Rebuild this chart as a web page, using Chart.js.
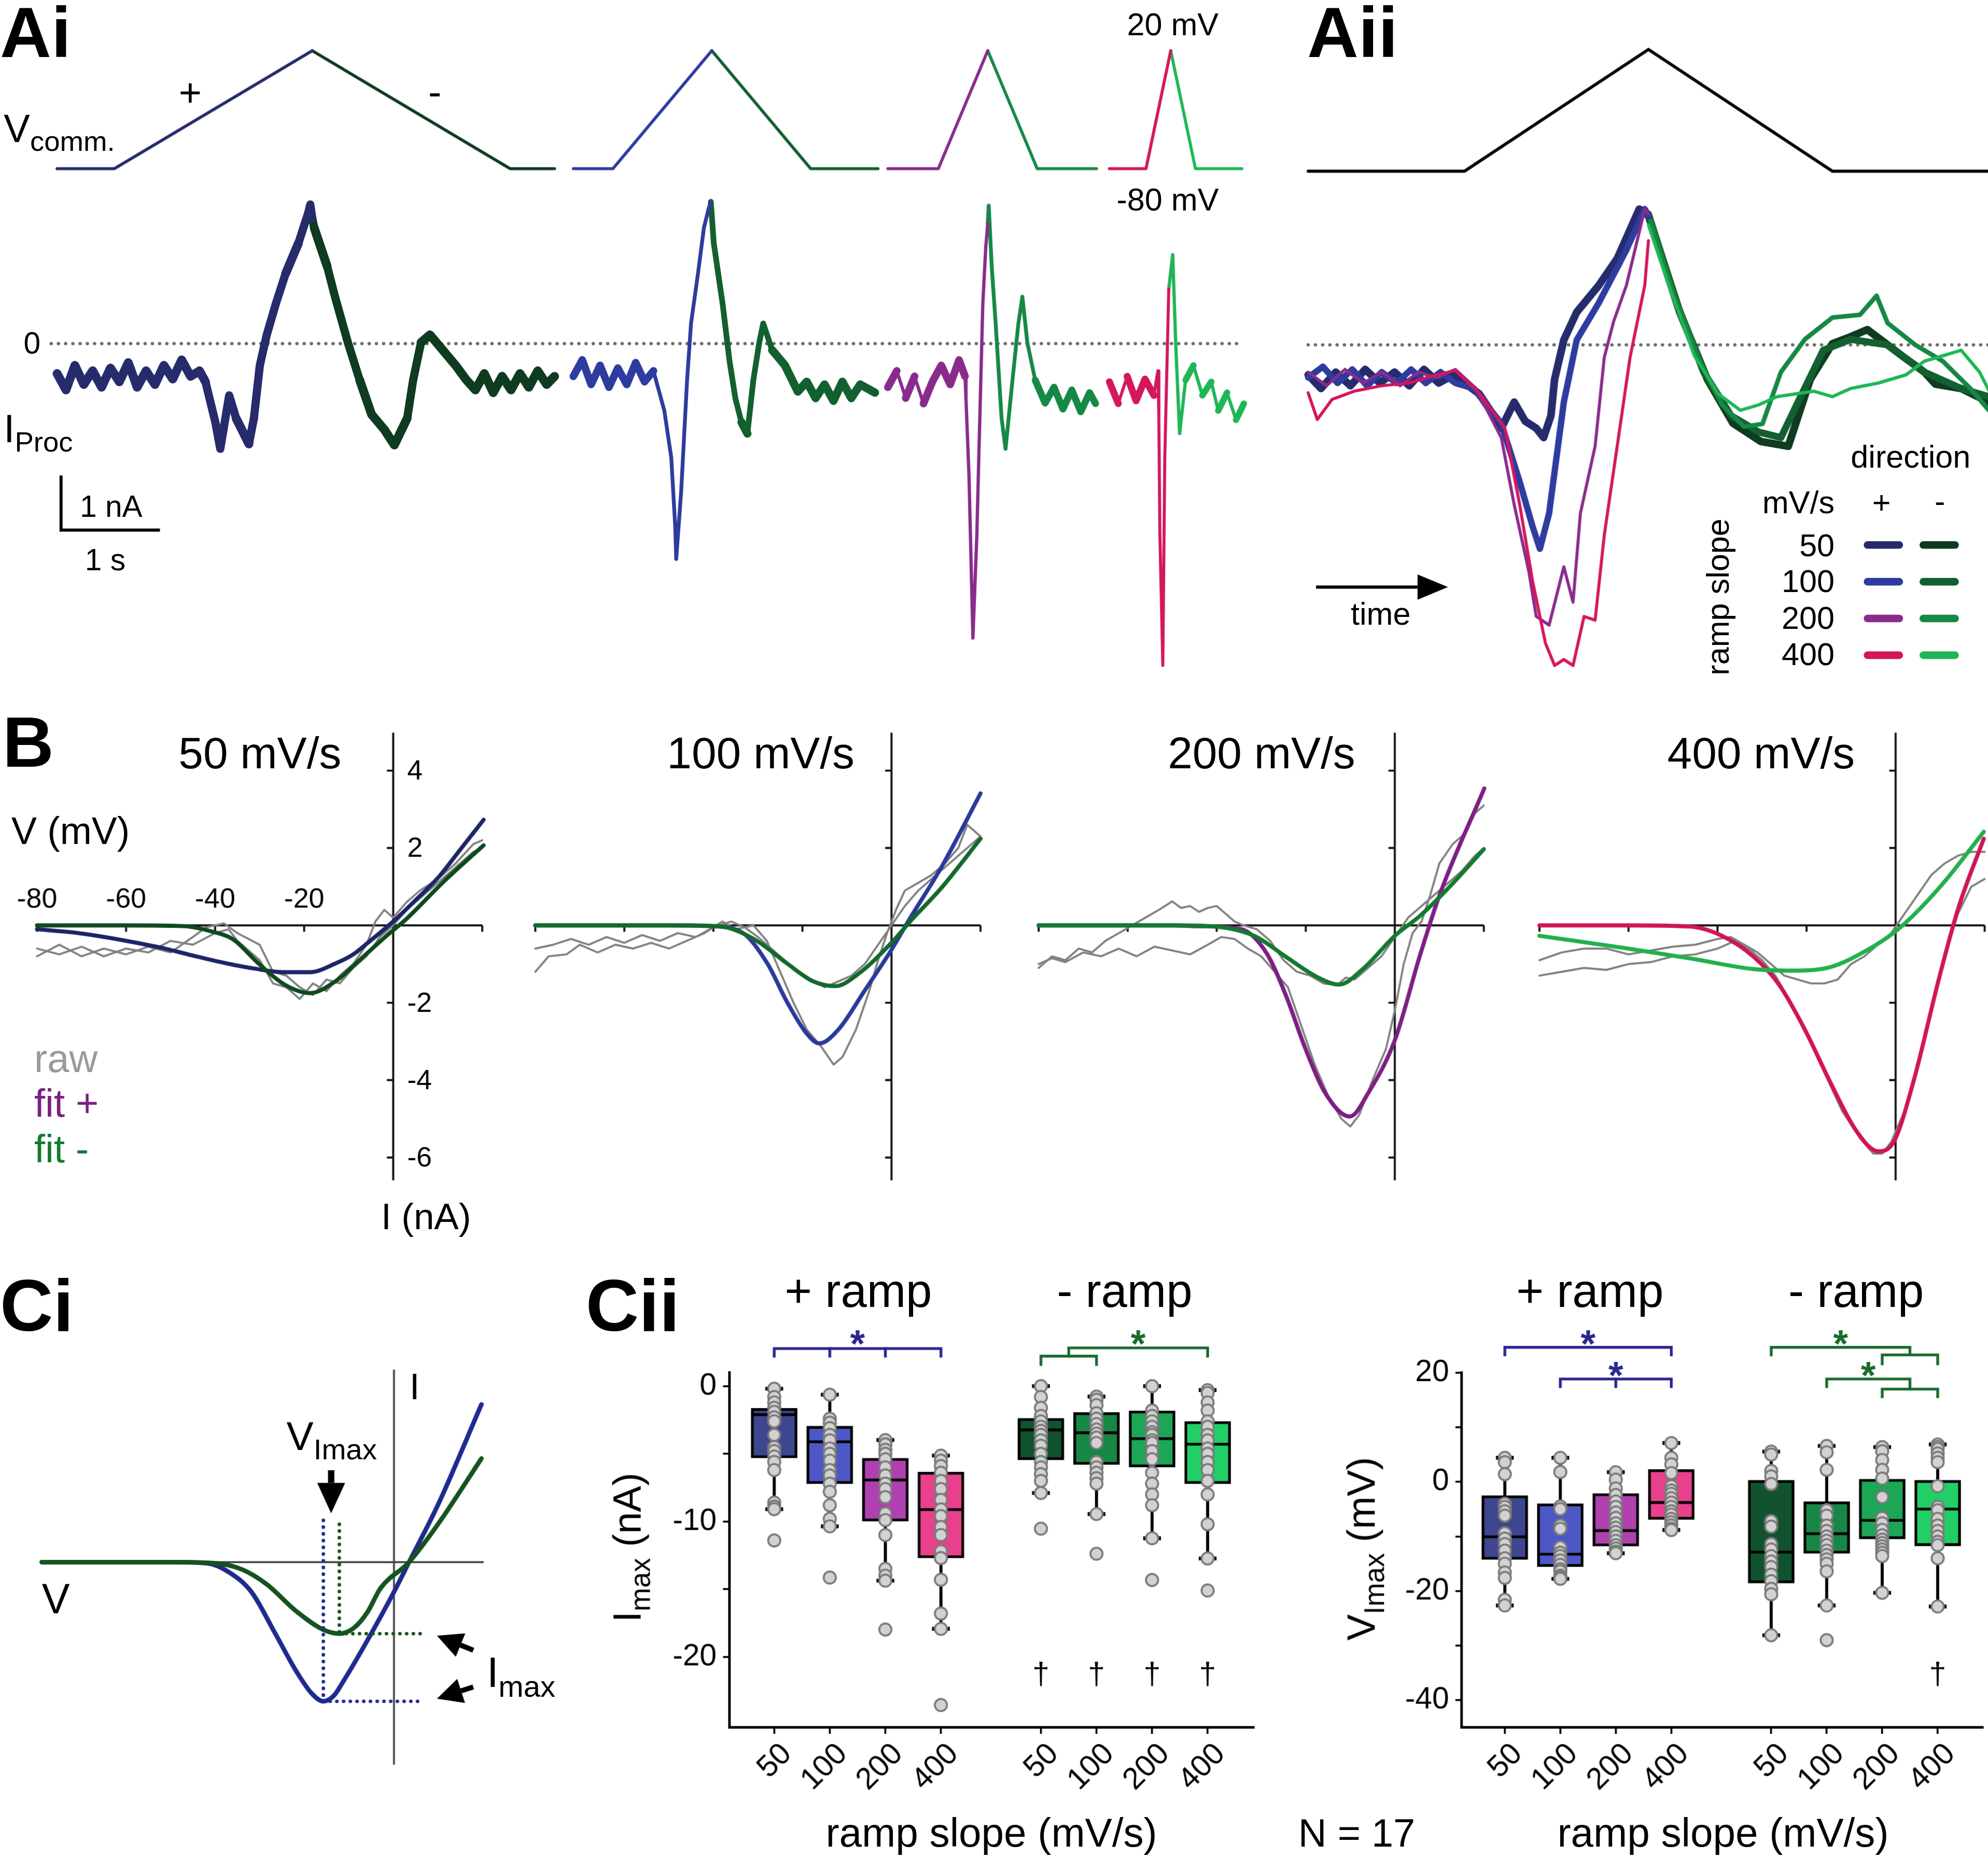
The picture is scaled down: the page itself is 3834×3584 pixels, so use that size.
<!DOCTYPE html>
<html>
<head>
<meta charset="utf-8">
<title>Ramp slope and direction dependence of I_Proc</title>
<script src="https://cdn.jsdelivr.net/npm/chart.js@4.4.1/dist/chart.umd.min.js"></script>
<style>
html, body { margin: 0; padding: 0; background: #fff; overflow: hidden; }
#stage { position: absolute; left: 0; top: 0; width: 1568px; height: 1466px; transform-origin: 0 0;
         transform: scale(2.44515, 2.44475); font-family: 'Liberation Sans', Arial, sans-serif; color: #000; }
#stage canvas { position: absolute; }
.t { position: absolute; white-space: nowrap; line-height: 1; }
.t sub { font-size: 0.72em; vertical-align: -0.32em; line-height: 0; }
.sw { position: absolute; height: 6px; border-radius: 3px; }
</style>
</head>
<body>
<div id="stage"></div>
<script>
// ---------- data ----------
const SLOPES = [50, 100, 200, 400];          // mV/s
const V_HOLD = -80, V_PEAK = 20;             // mV
const PRE_FLAT = [0.58, 0.40, 0.51, 0.37];   // s before the ramp
const POST_FLAT = [0.45, 0.68, 0.60, 0.47];  // s after the ramp

// Ai: I_Proc (nA) against time (s) from the start of each sweep
const AI_PLUS_50 = [[0,-0.55],[0.09,-0.85],[0.18,-0.4],[0.27,-0.75],[0.36,-0.5],[0.45,-0.8],[0.54,-0.45],[0.63,-0.7],[0.72,-0.35],[0.81,-0.8],[0.9,-0.5],[0.99,-0.75],[1.08,-0.4],[1.17,-0.65],[1.26,-0.3],[1.35,-0.6],[1.44,-0.5],[1.5,-0.7],[1.6,-1.44],[1.65,-1.93],[1.74,-0.95],[1.81,-1.37],[1.94,-1.84],[1.99,-1.37],[2.05,-0.4],[2.12,0.16],[2.21,0.72],[2.31,1.28],[2.44,1.84],[2.54,2.4],[2.56,2.55],[2.58,2.3]];
const AI_MINUS_50 = [[2.58,2.3],[2.6,2.12],[2.73,1.42],[2.81,0.86],[2.94,0.02],[3.06,-0.67],[3.18,-1.3],[3.31,-1.58],[3.41,-1.86],[3.54,-1.37],[3.6,-0.67],[3.68,0.02],[3.77,0.16],[3.9,-0.12],[4.03,-0.4],[4.14,-0.67],[4.23,-0.85],[4.32,-0.55],[4.41,-0.9],[4.5,-0.6],[4.59,-0.85],[4.68,-0.55],[4.77,-0.8],[4.86,-0.5],[4.95,-0.75],[5.03,-0.6]];
const AI_PLUS_100 = [[0,-0.6],[0.09,-0.3],[0.18,-0.75],[0.27,-0.4],[0.36,-0.8],[0.45,-0.45],[0.54,-0.75],[0.63,-0.35],[0.72,-0.7],[0.81,-0.5],[0.92,-1.23],[0.99,-2.09],[1.03,-3.35],[1.04,-3.95],[1.09,-2.72],[1.15,-0.67],[1.19,0.37],[1.26,1.28],[1.32,2.12],[1.37,2.49],[1.39,2.6]];
const AI_MINUS_100 = [[1.39,2.6],[1.42,1.84],[1.51,0.72],[1.58,-0.33],[1.64,-1.02],[1.7,-1.44],[1.76,-1.65],[1.82,-0.67],[1.88,0.02],[1.92,0.37],[2.01,-0.12],[2.14,-0.4],[2.27,-0.88],[2.36,-0.7],[2.45,-1.0],[2.54,-0.75],[2.63,-1.05],[2.72,-0.7],[2.81,-1.0],[2.9,-0.75],[3.05,-0.9]];
const AI_PLUS_200 = [[0,-0.8],[0.09,-0.5],[0.18,-1.0],[0.27,-0.6],[0.36,-1.1],[0.45,-0.7],[0.54,-0.4],[0.63,-0.75],[0.72,-0.3],[0.78,-0.6],[0.79,-1.02],[0.82,-2.4],[0.86,-5.4],[0.9,-3.5],[0.92,-2.05],[0.96,0.72],[0.99,1.77],[1.01,2.2]];
const AI_MINUS_200 = [[1.01,2.2],[1.02,2.53],[1.05,1.42],[1.09,0.37],[1.15,-1.37],[1.19,-1.93],[1.26,-0.67],[1.32,0.37],[1.36,0.86],[1.41,0.02],[1.49,-0.67],[1.59,-1.09],[1.68,-0.8],[1.77,-1.2],[1.86,-0.85],[1.95,-1.25],[2.04,-0.9],[2.1,-1.1]];
const AI_PLUS_400 = [[0,-0.7],[0.09,-1.1],[0.18,-0.6],[0.27,-1.05],[0.36,-0.65],[0.45,-0.95],[0.49,-0.5],[0.5,-1.37],[0.51,-3.47],[0.54,-5.9],[0.56,-2.09],[0.6,1.0]];
const AI_MINUS_400 = [[0.6,1.0],[0.64,1.63],[0.67,0.02],[0.71,-1.65],[0.77,-0.67],[0.85,-0.4],[0.94,-0.95],[1.03,-0.7],[1.1,-1.23],[1.19,-0.9],[1.28,-1.4],[1.36,-1.1]];

// Aii: same currents on a ramp-normalised time (0 = ramp start, 1 = peak, 2 = ramp end)
const AII_VC_U = [-0.85, 0, 1, 2, 2.86];
const AII_VC_V = [-80, -80, 20, -80, -80];
const AII_PLUS_50 = [[-0.85,-0.55],[-0.78,-0.8],[-0.7,-0.5],[-0.62,-0.75],[-0.54,-0.45],[-0.46,-0.7],[-0.38,-0.5],[-0.3,-0.75],[-0.22,-0.45],[-0.14,-0.7],[-0.06,-0.55],[0,-0.7],[0.08,-0.9],[0.14,-1.2],[0.2,-1.53],[0.27,-1.05],[0.33,-1.4],[0.39,-1.53],[0.43,-1.7],[0.47,-1.3],[0.49,-0.63],[0.54,0.09],[0.61,0.6],[0.73,1.09],[0.83,1.58],[0.95,2.49],[1,2.37]];
const AII_PLUS_100 = [[-0.85,-0.6],[-0.77,-0.4],[-0.69,-0.7],[-0.61,-0.45],[-0.53,-0.75],[-0.45,-0.5],[-0.37,-0.7],[-0.29,-0.45],[-0.21,-0.7],[-0.13,-0.5],[-0.05,-0.7],[0.05,-0.8],[0.12,-1.1],[0.2,-1.44],[0.3,-2.51],[0.37,-3.33],[0.41,-3.74],[0.46,-3.09],[0.54,-1.05],[0.61,0.09],[0.73,0.77],[0.88,1.74],[0.98,2.49],[1,2.37]];
const AII_PLUS_200 = [[-0.85,-0.5],[-0.75,-0.75],[-0.65,-0.45],[-0.55,-0.7],[-0.45,-0.5],[-0.35,-0.75],[-0.25,-0.5],[-0.15,-0.6],[-0.05,-0.45],[0.06,-0.79],[0.2,-1.7],[0.27,-2.93],[0.35,-4.16],[0.39,-4.98],[0.46,-5.14],[0.54,-4.07],[0.59,-4.72],[0.63,-3.09],[0.71,-1.86],[0.76,-0.23],[0.81,0.42],[0.88,1.09],[0.98,2.49],[1,2.4]];
const AII_PLUS_400 = [[-0.85,-0.88],[-0.8,-1.37],[-0.72,-1.0],[-0.6,-0.85],[-0.45,-0.75],[-0.3,-0.7],[-0.15,-0.55],[-0.05,-0.47],[0.08,-0.88],[0.22,-1.53],[0.3,-2.93],[0.37,-4.33],[0.44,-5.47],[0.49,-5.88],[0.54,-5.77],[0.59,-5.88],[0.65,-4.98],[0.71,-5.05],[0.76,-3.49],[0.83,-1.86],[0.9,-0.23],[0.98,1.09],[1,1.91]];
const AII_MINUS_50 = [[1,2.37],[1.17,0.6],[1.32,-0.63],[1.46,-1.44],[1.61,-1.77],[1.76,-1.86],[1.88,-0.63],[2,0.02],[2.1,0.15],[2.19,0.28],[2.3,0],[2.39,-0.23],[2.5,-0.5],[2.56,-0.72],[2.7,-0.8],[2.85,-1.05]];
const AII_MINUS_100 = [[1,2.4],[1.15,0.8],[1.3,-0.5],[1.45,-1.3],[1.6,-1.6],[1.72,-1.7],[1.82,-1.0],[1.95,-0.1],[2.1,0.1],[2.3,0],[2.5,-0.5],[2.7,-0.8],[2.85,-0.95]];
const AII_MINUS_200 = [[1,2.4],[1.14,0.9],[1.28,-0.3],[1.4,-1.1],[1.52,-1.5],[1.62,-1.45],[1.72,-0.5],[1.85,0.1],[2,0.5],[2.15,0.55],[2.24,0.9],[2.3,0.4],[2.45,0],[2.6,-0.3],[2.75,-0.8],[2.85,-1.2]];
const AII_MINUS_400 = [[1,2.2],[1.12,1.0],[1.25,-0.2],[1.38,-0.9],[1.5,-1.2],[1.6,-1.1],[1.7,-0.95],[1.8,-0.9],[1.9,-0.85],[2,-0.95],[2.1,-0.8],[2.25,-0.7],[2.4,-0.55],[2.5,-0.3],[2.6,-0.2],[2.7,-0.1],[2.8,-0.5],[2.86,-0.9]];

// B: I-V relations, [V (mV), I (nA)]
const B_XTICKS = [-80, -60, -40, -20, 20];
const B_YTICKS = [4, 2, -2, -4, -6];
const B_FIT_PLUS = [
  [[-80,-0.1],[-72,-0.18],[-66.5,-0.27],[-59,-0.42],[-52,-0.58],[-45,-0.78],[-37.5,-0.98],[-31,-1.12],[-24.4,-1.21],[-18.7,-1.21],[-12.9,-0.98],[-9,-0.75],[-5.7,-0.45],[0,0.1],[5,0.65],[10.2,1.25],[15,1.95],[20.3,2.73]],
  [[-80,0],[-50,0],[-40.8,-0.02],[-33.6,-0.18],[-27.9,-0.98],[-23.5,-1.97],[-19.1,-2.79],[-16.2,-3.05],[-11.9,-2.69],[-6.1,-1.7],[0,-0.63],[4.1,0.17],[11.3,1.52],[20,3.41]],
  [[-80,0],[-50,0],[-44.6,-0.02],[-34.5,-0.1],[-28.8,-0.72],[-24.5,-1.8],[-20.2,-3.15],[-15.8,-4.3],[-10.1,-4.94],[-5.8,-4.3],[0,-2.97],[5.8,-0.72],[10.1,0.8],[20.1,3.54]],
  [[-80,0],[-60,0],[-46.3,-0.03],[-39,-0.27],[-31.9,-0.81],[-26.2,-1.53],[-20.4,-2.69],[-14.7,-4.05],[-8.9,-5.3],[-3.9,-5.84],[-0.3,-5.57],[4,-4.04],[9.8,-1.35],[14.1,0.45],[19.8,2.24]]
];
const B_FIT_MINUS = [
  [[-80,0],[-60,0],[-50,-0.01],[-46,-0.03],[-41,-0.15],[-36,-0.36],[-30.3,-0.98],[-24.4,-1.53],[-18.7,-1.75],[-12.9,-1.44],[-7.1,-0.85],[-1.4,-0.26],[3,0.17],[11.6,1.16],[20.3,2.07]],
  [[-80,0],[-50,0],[-39,-0.02],[-30.8,-0.36],[-23.5,-0.98],[-17.7,-1.44],[-12.6,-1.57],[-7.5,-1.26],[0,-0.45],[4.1,0.09],[11.3,0.98],[20,2.24]],
  [[-80,0],[-50,0],[-41.7,-0.02],[-31.6,-0.27],[-24.5,-0.81],[-17.2,-1.35],[-12.5,-1.53],[-7.2,-1.13],[0,-0.27],[5.8,0.26],[12.9,1.07],[20,1.97]],
  [[-80,-0.27],[-60.7,-0.59],[-46.3,-0.85],[-31.9,-1.13],[-23.3,-1.17],[-14.7,-1.08],[-6.1,-0.62],[-0.3,-0.18],[4,0.26],[11.2,1.16],[19.8,2.42]]
];
const B_RAW_A = [
  [[-80,-0.6],[-75,-0.75],[-70,-0.55],[-65,-0.8],[-60,-0.6],[-55,-0.7],[-50,-0.4],[-45,-0.5],[-40,-0.2],[-37,-0.1],[-35,-0.4],[-30,-0.9],[-27,-1.5],[-24,-1.6],[-21,-1.9],[-18,-1.5],[-15,-1.7],[-12,-1.3],[-9,-1.0],[-6,-0.5],[-4,0.1],[-2,0.4],[0,0.2],[3,0.6],[6,0.9],[10,1.2],[14,1.6],[18,2.1],[20,2.2]],
  [[-80,-1.2],[-77,-0.8],[-73,-0.75],[-70,-0.5],[-66,-0.7],[-62,-0.5],[-58,-0.6],[-54,-0.45],[-50,-0.6],[-46,-0.4],[-42,-0.2],[-38,0.1],[-35,-0.1],[-31,0],[-28,-0.4],[-25,-1.2],[-22,-2.0],[-19,-2.7],[-16,-3.1],[-13,-3.6],[-11,-3.4],[-8,-2.7],[-5,-1.7],[-3,-0.9],[-1,-0.2],[1,0.4],[3,0.9],[6,1.1],[9,1.3],[12,1.6],[15,2.0],[17,2.6],[19,2.4],[20,2.3]],
  [[-80,-1.1],[-77,-0.8],[-74,-0.9],[-71,-0.6],[-68,-0.7],[-65,-0.4],[-62,-0.2],[-59,0],[-56,0.2],[-53,0.4],[-50,0.62],[-48,0.45],[-46,0.5],[-44,0.35],[-42,0.45],[-40,0.5],[-38,0.3],[-36,0.1],[-34,0],[-31,-0.1],[-28,-0.4],[-25,-0.9],[-22,-1.2],[-19,-1.3],[-16,-1.5],[-13,-1.55],[-11,-1.35],[-9,-1.4],[-6,-1.1],[-3,-0.8],[0,-0.3],[3,0.2],[6,0.5],[9,0.8],[12,1.1],[15,1.4],[18,1.8],[20,2.0]],
  [[-80,-0.9],[-75,-0.7],[-70,-0.6],[-65,-0.6],[-60,-0.75],[-55,-0.65],[-50,-0.55],[-45,-0.5],[-40,-0.35],[-37,-0.3],[-34,-0.5],[-31,-0.7],[-28,-1.0],[-25,-1.3],[-22,-1.4],[-19,-1.5],[-16,-1.5],[-13,-1.4],[-10,-1.0],[-7,-0.8],[-4,-0.5],[-1,-0.2],[2,0.3],[5,0.8],[8,1.3],[11,1.6],[14,1.8],[17,1.9],[20,1.9]]
];
const B_RAW_B = [
  [[-80,-0.8],[-75,-0.5],[-70,-0.8],[-65,-0.6],[-60,-0.75],[-55,-0.55],[-50,-0.7],[-45,-0.3],[-42,-0.05],[-38,0.05],[-35,-0.2],[-30,-0.5],[-27,-1.2],[-24,-1.3],[-21,-1.6],[-18,-1.8],[-15,-1.4],[-12,-1.5],[-9,-1.1],[-6,-0.8],[-3,-0.3],[0,0],[3,0.4],[6,0.7],[10,1.1],[14,1.5],[18,1.9],[20,2.0]],
  [[-80,-0.6],[-76,-0.5],[-72,-0.35],[-68,-0.5],[-64,-0.3],[-60,-0.45],[-56,-0.25],[-52,-0.4],[-48,-0.2],[-44,-0.3],[-40,-0.05],[-36,0.1],[-33,-0.05],[-30,-0.3],[-26,-0.7],[-22,-1.1],[-18,-1.4],[-15,-1.6],[-12,-1.45],[-9,-1.3],[-6,-1.0],[-3,-0.5],[0,0],[3,0.5],[6,0.9],[9,1.2],[12,1.5],[15,1.8],[18,2.1],[20,2.3]],
  [[-80,-1.0],[-77,-0.85],[-74,-0.95],[-70,-0.7],[-66,-0.8],[-62,-0.6],[-58,-0.8],[-54,-0.55],[-50,-0.65],[-46,-0.75],[-42,-0.5],[-39,-0.3],[-36,-0.35],[-33,-0.6],[-30,-0.8],[-27,-1.2],[-24,-1.6],[-21,-2.6],[-18,-3.6],[-15,-4.4],[-12,-5.0],[-10,-5.2],[-8,-4.9],[-5,-4.0],[-2,-3.2],[0,-2.2],[2,-1.0],[4,-0.2],[6,0.1],[8,0.8],[10,1.6],[13,2.1],[16,2.4],[18,2.9],[20,3.1]],
  [[-80,-1.3],[-75,-1.2],[-70,-1.1],[-65,-1.15],[-60,-1.0],[-55,-0.95],[-50,-0.8],[-45,-0.75],[-40,-0.6],[-36,-0.4],[-33,-0.6],[-30,-0.9],[-27,-1.3],[-24,-1.9],[-20,-2.8],[-16,-3.8],[-12,-4.8],[-8,-5.5],[-5,-5.9],[-3,-5.9],[-1,-5.6],[2,-4.8],[5,-3.6],[8,-2.2],[11,-0.8],[14,0.3],[17,1.0],[20,1.2]]
];

// Ci: schematic I-V curves, [V, I]
const CI_FAST = [[-79.3,0],[-50,0],[-42,-0.03],[-37.3,-0.25],[-32.1,-0.77],[-27,-1.79],[-21.9,-2.84],[-18.5,-3.4],[-15.9,-3.6],[-13.5,-3.45],[-11.6,-3.12],[-6.4,-2.11],[0,-0.77],[3.4,0],[9.9,1.48],[19.7,4.08]];
const CI_SLOW = [[-79.3,0],[-50,0],[-40,-0.03],[-34,-0.2],[-28.7,-0.57],[-21.9,-1.28],[-15.9,-1.75],[-12.3,-1.85],[-9,-1.7],[-6,-1.3],[-3,-0.67],[3.4,0],[9.9,0.98],[19.7,2.68]];

// Cii: box statistics and single cells (N = 17), groups = +50..+400, -50..-400
const IMAX_TICKS = [-20, -15, -10, -5, 0];
const IMAX_HI  = [-1.65, -2.97, -5.34, -6.36, -2.39, -1.95, -1.83, -2.62];
const IMAX_MED = [-2.1, -4.11, -6.93, -9.12, -3.23, -3.44, -3.88, -4.29];
const IMAX_LO  = [-5.29, -7.19, -9.96, -12.68, -5.43, -5.78, -5.96, -7.19];
const IMAX_WHI = [-0.19, -0.63, -3.98, -5.13, 0, -0.77, 0, -0.29];
const IMAX_WLO = [-9.09, -10.36, -14.37, -17.93, -7.89, -9.45, -11.24, -12.73];
const IMAX_CELLS = [
  [-0.19,-0.8,-1.2,-1.6,-1.9,-2.3,-2.6,-3.6,-4.5,-4.8,-5.2,-5.6,-6.2,-8.6,-8.9,-9.09,-11.4],
  [-0.63,-2.4,-2.7,-3.1,-3.6,-4.0,-4.6,-5.0,-5.5,-6.2,-6.6,-7.2,-7.8,-8.8,-9.8,-10.36,-14.14],
  [-3.98,-4.3,-4.7,-5.0,-5.4,-6.0,-6.6,-7.2,-7.6,-8.2,-9.4,-9.9,-11.0,-13.5,-14.0,-14.37,-17.98],
  [-5.13,-5.5,-5.9,-6.4,-7.0,-7.6,-8.4,-9.1,-9.6,-10.4,-11.0,-12.2,-12.7,-14.3,-16.8,-17.93,-23.56],
  [0,-0.8,-1.6,-2.2,-2.6,-3.0,-3.3,-3.6,-4.0,-4.4,-5.0,-5.6,-6.0,-6.5,-7.0,-7.89,-10.53],
  [-0.77,-1.0,-1.4,-2.0,-2.4,-2.8,-3.2,-3.5,-3.8,-4.2,-5.6,-6.0,-6.4,-6.8,-7.2,-9.45,-12.38],
  [0,-1.8,-2.2,-2.6,-3.0,-3.4,-3.6,-4.0,-4.2,-4.8,-5.4,-6.4,-7.2,-8.0,-8.8,-11.24,-14.32],
  [-0.29,-0.5,-1.2,-1.8,-2.6,-3.0,-3.6,-4.0,-4.6,-5.0,-5.6,-6.2,-7.0,-8.0,-10.2,-12.73,-15.1]
];
const IMAX_DAGGER = [null, null, null, null, -21.4, -21.4, -21.4, -21.4];

const VMAX_TICKS = [-40, -30, -20, -10, 0, 10, 20];
const VMAX_HI  = [-2.55, -4.05, -2.18, 2.23, 0.26, -3.67, 0.46, 0.26];
const VMAX_MED = [-10.07, -13.26, -8.94, -3.79, -12.88, -9.5, -7.06, -4.99];
const VMAX_LO  = [-14.2, -15.5, -11.75, -6.87, -18.5, -13.08, -10.43, -11.69];
const VMAX_WHI = [4.4, 4.4, 1.77, 7.11, 5.53, 6.58, 6.37, 6.85];
const VMAX_WLO = [-22.65, -17.77, -13.08, -8.83, -28.1, -22.65, -20.33, -22.84];
const VMAX_CELLS = [
  [4.4,3.6,1.4,-4.0,-4.6,-5.4,-6.2,-9.4,-10.4,-11.4,-12.6,-14.0,-15.0,-16.6,-17.6,-21.6,-22.65],
  [4.4,1.8,-4.5,-5.0,-8.0,-8.6,-12.0,-13.0,-13.6,-14.4,-15.2,-16.0,-16.4,-17.2,-17.5,-17.7,-17.77],
  [1.77,0.4,-1.2,-2.4,-3.6,-4.6,-5.6,-6.6,-7.6,-8.4,-9.2,-10.0,-10.8,-11.6,-12.2,-12.8,-13.08],
  [7.11,4.4,3.2,1.6,-0.8,-1.6,-2.2,-3.0,-3.8,-4.6,-5.4,-6.0,-6.8,-7.4,-8.0,-8.6,-8.83],
  [5.53,5.0,2.0,1.0,-0.4,-7.2,-8.2,-11.4,-12.4,-13.6,-14.6,-15.6,-17.0,-18.2,-19.6,-20.6,-28.1],
  [6.58,5.4,2.2,-5.2,-6.2,-8.0,-9.0,-10.0,-10.8,-11.6,-12.6,-13.4,-14.2,-15.0,-16.4,-22.65,-29.0],
  [6.37,5.6,4.0,2.2,0.6,-2.8,-6.6,-7.6,-8.8,-9.8,-10.6,-11.2,-11.8,-12.4,-13.0,-13.6,-20.33],
  [6.85,6.4,6.0,5.2,4.4,3.6,-0.8,-4.6,-5.2,-6.8,-8.0,-9.0,-10.0,-11.0,-11.6,-14.0,-22.84]
];
const VMAX_DAGGER = [null, null, null, null, null, null, null, -35.5];

// ---------- colours and layout ----------
const PLUS  = ['#252b6b', '#2e3b9f', '#8a2b8c', '#d4165d'];
const MINUS = ['#0f3b20', '#12602f', '#168845', '#1fb656'];
const B_PLUS_COL  = ['#1d2567', '#2b399c', '#7c1f82', '#d0145a'];
const B_MINUS_COL = ['#0c4a1e', '#13692c', '#127a30', '#23b04c'];
const BOX_FILL = ['#3e4690', '#4d58c6', '#b040b0', '#e8408c', '#11532f', '#178746', '#1ca656', '#21cf66'];
const SIG_PLUS = '#2a2590', SIG_MINUS = '#1a6a2c';
const RAW_GRAY = '#808080', ZERO_GRAY = '#6a6a6a';
// [width on noisy stretches, width on fast transients]
const AI_PLUS_W  = [[7, 6.5], [6, 3], [6, 2.6], [5.5, 2.4]];
const AI_MINUS_W = [[7, 6.5], [6.5, 4.5], [5.5, 3], [5, 2.6]];
const AII_PLUS_W = [6, 5, 2.4, 2.4];
const AII_MINUS_W = [6, 5.5, 3.6, 2.6];
const SWEEP_START = [0, 5.22, 8.40, 10.64];   // where each sweep sits on the Ai time axis (s)
const GROUP_POS = [1, 2, 3, 4, 5.8, 6.8, 7.8, 8.8];
const B_X0 = [310, 703, 1100, 1494.5];        // origin of each I-V plot (px)

const DPR = 3834 / 1568;
const stage = document.getElementById('stage');
Chart.defaults.font.family = "'Liberation Sans', Arial, sans-serif";
Chart.defaults.color = '#000';

function addCanvas(l, t, w, h) {
  const c = document.createElement('canvas');
  c.width = w; c.height = h;
  c.style.left = l + 'px'; c.style.top = t + 'px';
  c.style.width = w + 'px'; c.style.height = h + 'px';
  stage.appendChild(c);
  return c;
}
function baseOptions(extra) {
  return Object.assign({
    responsive: false, animation: false, devicePixelRatio: DPR, events: [],
    layout: { padding: 0 },
    plugins: { legend: { display: false }, tooltip: { enabled: false } }
  }, extra);
}
function hidden(r) { return { type: 'linear', display: false, min: r[0], max: r[1] }; }
// axis range that puts value v0 at pixel p0 with ppu pixels per unit, over a canvas edge to edge
function hRange(l, w, p0, v0, ppu) { return [v0 + (l - p0) / ppu, v0 + (l + w - p0) / ppu]; }
function vRange(t, h, p0, v0, ppu) { return [v0 - (t + h - p0) / ppu, v0 + (p0 - t) / ppu]; }
function pts(arr, dx) { return arr.map(p => ({ x: p[0] + (dx || 0), y: p[1] })); }
function line(data, color, width, extra) {
  return Object.assign({ type: 'line', data, borderColor: color, borderWidth: width, pointRadius: 0,
    tension: 0, fill: false, clip: false, borderJoinStyle: 'round', borderCapStyle: 'round' }, extra || {});
}
// thick band for the noisy stretches, thin line where the current moves fast
function noisySegments(w) {
  return { borderWidth: w[0], segment: { borderWidth: c => {
    const dx = Math.abs(c.p1.x - c.p0.x), dy = Math.abs(c.p1.y - c.p0.y);
    return dy > 3 * Math.max(dx, 0.01) ? w[1] : w[0];
  } } };
}
function text(html, x, y, size, o) {
  o = o || {};
  const d = document.createElement('div');
  d.className = 't';
  d.innerHTML = html;
  d.style.fontSize = size + 'px';
  d.style.left = x + 'px';
  if (o.rot) {
    d.style.top = y + 'px';
    d.style.transform = 'translate(-50%,-50%) rotate(-90deg)';
  } else {
    d.style.top = (y - 0.85 * size) + 'px';
    const a = o.align || 'left';
    d.style.transform = 'translateX(' + (a === 'center' ? '-50%' : a === 'right' ? '-100%' : '0') + ')';
  }
  if (o.bold) d.style.fontWeight = 'bold';
  if (o.color) d.style.color = o.color;
  stage.appendChild(d);
}
function arrow(ctx, x1, y1, x2, y2, hl, hw, lw) {
  const a = Math.atan2(y2 - y1, x2 - x1);
  const bx = x2 - hl * Math.cos(a), by = y2 - hl * Math.sin(a);
  ctx.lineWidth = lw; ctx.strokeStyle = '#000'; ctx.fillStyle = '#000';
  ctx.beginPath(); ctx.moveTo(x1, y1); ctx.lineTo(bx, by); ctx.stroke();
  ctx.beginPath();
  ctx.moveTo(x2, y2);
  ctx.lineTo(bx + hw / 2 * Math.sin(a), by - hw / 2 * Math.cos(a));
  ctx.lineTo(bx - hw / 2 * Math.sin(a), by + hw / 2 * Math.cos(a));
  ctx.closePath(); ctx.fill();
}

const AI_PLUS = [AI_PLUS_50, AI_PLUS_100, AI_PLUS_200, AI_PLUS_400];
const AI_MINUS = [AI_MINUS_50, AI_MINUS_100, AI_MINUS_200, AI_MINUS_400];
const AII_PLUS = [AII_PLUS_50, AII_PLUS_100, AII_PLUS_200, AII_PLUS_400];
const AII_MINUS = [AII_MINUS_50, AII_MINUS_100, AII_MINUS_200, AII_MINUS_400];

// ---------- Ai: command voltage ----------
const AI_X = hRange(20, 980, 45, 0, 78);
{
  const ds = [];
  SLOPES.forEach((s, k) => {
    const d = (V_PEAK - V_HOLD) / s, t0 = SWEEP_START[k], a = t0 + PRE_FLAT[k];
    ds.push(line([{ x: t0, y: V_HOLD }, { x: a, y: V_HOLD }, { x: a + d, y: V_PEAK }], PLUS[k], 2.4));
    ds.push(line([{ x: a + d, y: V_PEAK }, { x: a + 2 * d, y: V_HOLD }, { x: a + 2 * d + POST_FLAT[k], y: V_HOLD }], MINUS[k], 2.4));
  });
  new Chart(addCanvas(20, 30, 980, 115), { type: 'scatter', data: { datasets: ds },
    options: baseOptions({ scales: { x: hidden(AI_X), y: hidden(vRange(30, 115, 133, -80, 0.93)) } }) });
}

// ---------- Ai: currents ----------
{
  const ds = [];
  SLOPES.forEach((s, k) => {
    ds.push(line(pts(AI_PLUS[k], SWEEP_START[k]), PLUS[k], 0, noisySegments(AI_PLUS_W[k])));
    ds.push(line(pts(AI_MINUS[k], SWEEP_START[k]), MINUS[k], 0, noisySegments(AI_MINUS_W[k])));
  });
  // scale bar 1 s / 1 nA
  ds.push(line([{ x: 0.04, y: -2.42 }, { x: 0.04, y: -3.42 }, { x: 1.04, y: -3.42 }], '#000', 2.4,
    { borderCapStyle: 'butt', borderJoinStyle: 'miter' }));
  ds.push(line([{ x: -0.06, y: 0 }, { x: 11.99, y: 0 }], ZERO_GRAY, 2.6, { borderDash: [0.1, 5.6] }));
  new Chart(addCanvas(20, 150, 980, 390), { type: 'scatter', data: { datasets: ds },
    options: baseOptions({ scales: { x: hidden(AI_X), y: hidden(vRange(150, 390, 271, 0, 43)) } }) });
}

// ---------- Aii ----------
const AII_X = hRange(1020, 550, 1155, 0, 145);
new Chart(addCanvas(1020, 30, 550, 115), { type: 'scatter',
  data: { datasets: [line(AII_VC_U.map((u, i) => ({ x: u, y: AII_VC_V[i] })), '#000', 2.4, { borderJoinStyle: 'miter' })] },
  options: baseOptions({ scales: { x: hidden(AII_X), y: hidden(vRange(30, 115, 135, -80, 0.96)) } }) });
{
  const ds = [];
  [3, 2, 1, 0].forEach(k => ds.push(line(pts(AII_PLUS[k]), PLUS[k], AII_PLUS_W[k])));
  [3, 2, 1, 0].forEach(k => ds.push(line(pts(AII_MINUS[k]), MINUS[k], AII_MINUS_W[k])));
  ds.push(line([{ x: -0.85, y: 0 }, { x: 2.85, y: 0 }], ZERO_GRAY, 2.6, { borderDash: [0.1, 5.6] }));
  new Chart(addCanvas(1020, 150, 550, 390), { type: 'scatter', data: { datasets: ds },
    options: baseOptions({ scales: { x: hidden(AII_X), y: hidden(vRange(150, 390, 272, 0, 43)) } }),
    plugins: [{ id: 'timeArrow', afterDatasetsDraw(chart) {
      const ctx = chart.ctx; ctx.save();
      arrow(ctx, 18, 313, 122, 313, 24, 20, 2.6);
      ctx.restore();
    } }] });
}

// ---------- B: I-V plots ----------
function crossAxes(withLabels) {
  return { id: 'crossAxes', beforeDatasetsDraw(chart) {
    const ctx = chart.ctx, x = chart.scales.x, y = chart.scales.y;
    const x0 = x.getPixelForValue(0), y0 = y.getPixelForValue(0);
    ctx.save();
    ctx.strokeStyle = '#111'; ctx.lineWidth = 1.6;
    ctx.beginPath();
    ctx.moveTo(x.getPixelForValue(-80), y0); ctx.lineTo(x.getPixelForValue(20), y0);
    ctx.moveTo(x0, y.getPixelForValue(4.98)); ctx.lineTo(x0, y.getPixelForValue(-6.59));
    B_XTICKS.forEach(v => { const p = x.getPixelForValue(v); ctx.moveTo(p, y0); ctx.lineTo(p, y0 + 5); });
    B_YTICKS.forEach(v => { const p = y.getPixelForValue(v); ctx.moveTo(x0 - 5, p); ctx.lineTo(x0, p); });
    ctx.stroke();
    if (withLabels) {
      ctx.fillStyle = '#000';
      ctx.font = "22px 'Liberation Sans', Arial, sans-serif";
      ctx.textAlign = 'center'; ctx.textBaseline = 'alphabetic';
      B_XTICKS.filter(v => v < 0).forEach(v => ctx.fillText(String(v), x.getPixelForValue(v), y0 - 14));
      ctx.textAlign = 'left'; ctx.textBaseline = 'middle';
      B_YTICKS.forEach(v => ctx.fillText(String(v), x0 + 11, y.getPixelForValue(v) + 1));
    }
    ctx.restore();
  } };
}
B_X0.forEach((x0, k) => {
  const l = x0 - 300, w = 385;
  const ds = [
    line(pts(B_FIT_MINUS[k]), B_MINUS_COL[k], 3.2, { cubicInterpolationMode: 'monotone' }),
    line(pts(B_FIT_PLUS[k]), B_PLUS_COL[k], 3.2, { cubicInterpolationMode: 'monotone' }),
    line(pts(B_RAW_A[k]), RAW_GRAY, 1.6),
    line(pts(B_RAW_B[k]), RAW_GRAY, 1.6)
  ];
  new Chart(addCanvas(l, 570, w, 370), { type: 'scatter', data: { datasets: ds },
    options: baseOptions({ scales: { x: hidden(hRange(l, w, x0, 0, 3.51)), y: hidden(vRange(570, 370, 730, 0, 30.5)) } }),
    plugins: [crossAxes(k === 0)] });
});

// ---------- Ci: schematic ----------
{
  const minOf = arr => arr.reduce((m, p) => (p[1] < m[1] ? p : m));
  const ds = [
    line(pts(CI_SLOW), '#15531f', 3.6, { cubicInterpolationMode: 'monotone' }),
    line(pts(CI_FAST), '#1f2a8f', 3.6, { cubicInterpolationMode: 'monotone' })
  ];
  new Chart(addCanvas(20, 1070, 370, 335), { type: 'scatter', data: { datasets: ds },
    options: baseOptions({ scales: { x: hidden(hRange(20, 370, 310.5, 0, 3.5)), y: hidden(vRange(1070, 335, 1232.5, 0, 30.5)) } }),
    plugins: [{ id: 'ciMarks',
      beforeDatasetsDraw(chart) {
        const ctx = chart.ctx, x = chart.scales.x, y = chart.scales.y;
        ctx.save(); ctx.strokeStyle = '#444'; ctx.lineWidth = 1.5;
        ctx.beginPath();
        ctx.moveTo(x.getPixelForValue(-79.3), y.getPixelForValue(0)); ctx.lineTo(x.getPixelForValue(20.2), y.getPixelForValue(0));
        ctx.moveTo(x.getPixelForValue(0), y.getPixelForValue(4.98)); ctx.lineTo(x.getPixelForValue(0), y.getPixelForValue(-5.24));
        ctx.stroke(); ctx.restore();
      },
      afterDatasetsDraw(chart) {
        const ctx = chart.ctx, x = chart.scales.x, y = chart.scales.y;
        ctx.save();
        ctx.setLineDash([0.1, 5.2]); ctx.lineCap = 'round'; ctx.lineWidth = 2.8;
        [[CI_FAST, '#1f2a8f', 1.08, 6.0], [CI_SLOW, '#15531f', 0.98, 6.4]].forEach(([arr, col, top, right]) => {
          const m = minOf(arr);
          ctx.strokeStyle = col;
          ctx.beginPath();
          ctx.moveTo(x.getPixelForValue(m[0]), y.getPixelForValue(top)); ctx.lineTo(x.getPixelForValue(m[0]), y.getPixelForValue(m[1]));
          ctx.moveTo(x.getPixelForValue(m[0]), y.getPixelForValue(m[1])); ctx.lineTo(x.getPixelForValue(right), y.getPixelForValue(m[1]));
          ctx.stroke();
        });
        ctx.setLineDash([]); ctx.lineCap = 'butt';
        arrow(ctx, 241, 90, 241, 124, 24, 22, 5);
        arrow(ctx, 353, 232, 324.4, 220.5, 20, 20, 4);
        arrow(ctx, 353, 261, 324.4, 270.2, 20, 20, 4);
        ctx.restore();
      } }] });
}

// ---------- Cii: box plots ----------
function gx(xs, i) {
  const a = Math.floor(i), f = i - a;
  const p = xs.getPixelForValue(GROUP_POS[a]);
  return f ? p + f * (xs.getPixelForValue(GROUP_POS[a + 1]) - p) : p;
}
function boxPanel(cfg) {
  const [l, t, w, h] = cfg.box;
  const boxes = { type: 'bar', data: GROUP_POS.map((x, i) => ({ x, y: [cfg.lo[i], cfg.hi[i]] })),
    backgroundColor: BOX_FILL, borderColor: '#000', borderWidth: 2.2, borderSkipped: false,
    barThickness: 36, grouped: false, order: 5 };
  const whisk = [], caps = [], meds = [], cells = [];
  GROUP_POS.forEach((x, i) => {
    whisk.push({ x, y: cfg.whi[i] }, { x, y: cfg.hi[i] }, { x, y: null }, { x, y: cfg.lo[i] }, { x, y: cfg.wlo[i] }, { x, y: null });
    [cfg.whi[i], cfg.wlo[i]].forEach(v => caps.push({ x: x - 0.16, y: v }, { x: x + 0.16, y: v }, { x, y: null }));
    meds.push({ x: x - 0.41, y: cfg.med[i] }, { x: x + 0.41, y: cfg.med[i] }, { x, y: null });
    cfg.cells[i].forEach(v => cells.push({ x, y: v }));
  });
  const ds = [
    boxes,
    line(whisk, '#000', 2.4, { order: 4, borderCapStyle: 'butt' }),
    line(meds, '#000', 2.2, { order: 3, borderCapStyle: 'butt' }),
    line(caps, '#000', 3, { order: 2.5, borderCapStyle: 'butt' }),
    { type: 'line', data: cells, showLine: false, pointRadius: 4.8, pointBackgroundColor: '#d2d2d2',
      pointBorderColor: '#7a7a7a', pointBorderWidth: 1.5, clip: false, order: 1 }
  ];
  const axisGrid = { display: true, drawOnChartArea: false, drawTicks: true, tickLength: 5, color: '#000', lineWidth: 1.5, offset: false };
  const axisBorder = { display: true, color: '#000', width: 2 };
  new Chart(addCanvas(l, t, w, h), { type: 'bar', data: { datasets: ds },
    options: baseOptions({
      layout: { padding: { top: 1083 - t, right: cfg.padRight, left: 0, bottom: 0 } },
      scales: {
        x: { type: 'linear', min: cfg.xr[0], max: cfg.xr[1], offset: false,
          afterBuildTicks: s => { s.ticks = GROUP_POS.map(v => ({ value: v })); },
          afterFit: s => { s.height = 57.2; },
          grid: axisGrid, border: axisBorder,
          ticks: { autoSkip: false, minRotation: 45, maxRotation: 45, padding: 2, labelOffset: 10,
            font: { size: 24 }, color: '#000', callback: (v, i) => SLOPES[i % 4] } },
        y: { type: 'linear', min: cfg.yr[0], max: cfg.yr[1],
          afterBuildTicks: s => { s.ticks = cfg.ticks.map(v => ({ value: v })); },
          afterFit: s => { s.width = cfg.axisW; },
          grid: axisGrid, border: axisBorder,
          ticks: { font: { size: 24 }, color: '#000', padding: 5,
            callback: v => (v % cfg.labelStep === 0 ? v : '') } }
      }
    }),
    plugins: [{ id: 'sig', afterDatasetsDraw(chart) {
      const ctx = chart.ctx, xs = chart.scales.x, ys = chart.scales.y;
      ctx.save();
      ctx.lineWidth = 2.2; ctx.lineCap = 'square'; ctx.lineJoin = 'miter';
      cfg.brackets.forEach(b => {
        ctx.strokeStyle = b.color;
        b.paths.forEach(p => {
          ctx.beginPath();
          p.forEach(([gi, py], j) => (j ? ctx.lineTo : ctx.moveTo).call(ctx, gx(xs, gi), py - t));
          ctx.stroke();
        });
        ctx.fillStyle = b.color;
        ctx.font = "bold 30px 'Liberation Sans', Arial, sans-serif";
        ctx.textAlign = 'center'; ctx.textBaseline = 'alphabetic';
        ctx.fillText('*', gx(xs, b.star[0]), b.star[1] - t + 17);
      });
      ctx.fillStyle = '#000';
      ctx.font = "24px 'Liberation Sans', Arial, sans-serif";
      ctx.textAlign = 'center'; ctx.textBaseline = 'middle';
      cfg.dagger.forEach((v, i) => { if (v !== null) ctx.fillText('\u2020', gx(xs, i), ys.getPixelForValue(v)); });
      ctx.restore();
    } }]
  });
}

boxPanel({
  box: [515, 1030, 480, 390], axisW: 60.2, padRight: 6.4, xr: [0.192, 9.63], yr: [-25.22, 1.0],
  ticks: IMAX_TICKS, labelStep: 10,
  hi: IMAX_HI, med: IMAX_MED, lo: IMAX_LO, whi: IMAX_WHI, wlo: IMAX_WLO, cells: IMAX_CELLS, dagger: IMAX_DAGGER,
  brackets: [
    { color: SIG_PLUS, star: [1.5, 1053.5],
      paths: [[[0, 1070], [0, 1064], [3, 1064], [3, 1070]], [[1, 1064], [1, 1070]], [[2, 1064], [2, 1070]]] },
    { color: SIG_MINUS, star: [5.75, 1053.5],
      paths: [[[4.5, 1070], [4.5, 1063.5], [7, 1063.5], [7, 1070]], [[4, 1076.5], [4, 1070], [5, 1070], [5, 1076.5]]] }
  ]
});
boxPanel({
  box: [1090, 1030, 480, 390], axisW: 62.9, padRight: 2, xr: [0.224, 9.615], yr: [-45, 20],
  ticks: VMAX_TICKS, labelStep: 20,
  hi: VMAX_HI, med: VMAX_MED, lo: VMAX_LO, whi: VMAX_WHI, wlo: VMAX_WLO, cells: VMAX_CELLS, dagger: VMAX_DAGGER,
  brackets: [
    { color: SIG_PLUS, star: [1.5, 1053.5], paths: [[[0, 1069], [0, 1063], [3, 1063], [3, 1069]]] },
    { color: SIG_PLUS, star: [2.0, 1078.6], paths: [[[1, 1094], [1, 1088], [3, 1088], [3, 1094]], [[2, 1088], [2, 1094]]] },
    { color: SIG_MINUS, star: [5.25, 1053.5],
      paths: [[[4, 1069], [4, 1063], [6.5, 1063], [6.5, 1069]], [[6, 1076], [6, 1069], [7, 1069], [7, 1076]]] },
    { color: SIG_MINUS, star: [5.75, 1078.6],
      paths: [[[5, 1094], [5, 1088], [6.5, 1088], [6.5, 1096]], [[6, 1102], [6, 1096], [7, 1096], [7, 1102]]] }
  ]
});

// ---------- text ----------
text('Ai', 0, 45.5, 56, { bold: true });
text('Aii', 1031, 45.5, 56, { bold: true });
text('V<sub>comm.</sub>', 3, 112.5, 31);
text('+', 150, 84, 31, { align: 'center' });
text('-', 343, 83, 31, { align: 'center' });
text('20 mV', 925, 28.5, 25, { align: 'center' });
text('-80 mV', 921, 166.5, 25, { align: 'center' });
text('0', 32, 279, 24, { align: 'right' });
text('I<sub>Proc</sub>', 3, 349.5, 31);
text('1 nA', 63, 408, 24);
text('1 s', 83, 450, 24, { align: 'center' });

text('direction', 1507, 369, 25, { align: 'center' });
text('mV/s', 1447, 405, 25, { align: 'right' });
text('+', 1484, 405, 25, { align: 'center' });
text('-', 1530, 404, 25, { align: 'center' });
SLOPES.forEach((s, k) => {
  const yc = 430.3 + 28.75 * k;
  text(String(s), 1447, yc + 8.5, 25, { align: 'right' });
  [[1470, PLUS[k]], [1514, MINUS[k]]].forEach(([x, c]) => {
    const d = document.createElement('div');
    d.className = 'sw';
    d.style.left = x + 'px'; d.style.top = (yc - 3) + 'px'; d.style.width = '31px'; d.style.background = c;
    stage.appendChild(d);
  });
});
text('ramp slope', 1355, 471, 25, { rot: true });
text('time', 1089, 493, 25, { align: 'center' });

text('B', 2, 606, 56, { bold: true });
['50 mV/s', '100 mV/s', '200 mV/s', '400 mV/s'].forEach((s, k) =>
  text(s, [205, 600, 995, 1389][k], 605.5, 35, { align: 'center' }));
text('V (mV)', 9, 666, 30);
text('I (nA)', 336, 971, 29, { align: 'center' });
text('raw', 27, 846, 31, { color: '#9a9a9a' });
text('fit +', 27, 881, 31, { color: '#7c1f82' });
text('fit -', 27, 917, 31, { color: '#127a30' });

text('Ci', 0, 1050, 58, { bold: true });
text('Cii', 462, 1050, 58, { bold: true });
text('I', 323, 1105, 29);
text('V', 33, 1273, 33);
text('V<sub>Imax</sub>', 226, 1144.5, 32);
text('I<sub>max</sub>', 384, 1331, 33);

text('+ ramp', 677, 1031, 37, { align: 'center' });
text('- ramp', 887, 1031, 37, { align: 'center' });
text('+ ramp', 1254, 1031, 37, { align: 'center' });
text('- ramp', 1464, 1031, 37, { align: 'center' });
text('I<sub>max</sub> (nA)', 495, 1221, 31, { rot: true });
text('V<sub>Imax</sub> (mV)', 1074, 1222, 31, { rot: true });
text('ramp slope (mV/s)', 782, 1457, 32, { align: 'center' });
text('ramp slope (mV/s)', 1359, 1457, 32, { align: 'center' });
text('N = 17', 1024, 1457, 31);
</script>
</body>
</html>
